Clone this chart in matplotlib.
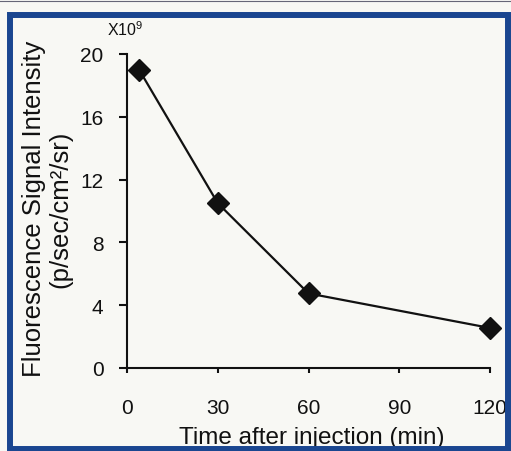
import matplotlib
matplotlib.use("Agg")
import matplotlib.pyplot as plt
from matplotlib.patches import Rectangle
from matplotlib.lines import Line2D

# data
time_min = [4, 30, 60, 120]
signal_e9 = [19.0, 10.5, 4.75, 2.55]
xticks = [0, 30, 60, 90, 120]
yticks = [0, 4, 8, 12, 16, 20]

plt.rcParams['font.family'] = ['Liberation Sans', 'DejaVu Sans']
plt.rcParams['mathtext.fontset'] = 'custom'
plt.rcParams['mathtext.rm'] = 'Liberation Sans'
plt.rcParams['mathtext.default'] = 'rm'

bg = '#f8f8f4'
fig = plt.figure(figsize=(5.11, 4.52), dpi=100, facecolor=bg)
ax = fig.add_axes([127 / 511, 1 - 369 / 452, 363 / 511, 314 / 452])
ax.set_facecolor(bg)

ax.plot(time_min, signal_e9, color='#111111', lw=1.6, marker='D',
        markersize=11, markerfacecolor='#111111', markeredgecolor='#111111',
        clip_on=False, zorder=3)

ax.set_xlim(0, 120)
ax.set_ylim(0, 20)
ax.set_xticks(xticks)
ax.set_yticks(yticks)
for s in ['top', 'right']:
    ax.spines[s].set_visible(False)
for s in ['left', 'bottom']:
    ax.spines[s].set_linewidth(1.5)
    ax.spines[s].set_color('#111111')

ax.tick_params(axis='y', direction='out', length=6, width=1.5, pad=11,
               labelsize=15, colors='#111111')
ax.tick_params(axis='x', direction='out', length=3.5, width=1.5, pad=18,
               labelsize=15, colors='#111111')

ax.set_xlabel('Time after injection (min)', fontsize=17.5, color='#111111')
ax.xaxis.set_label_coords(0.51, -0.185)
ax.set_ylabel('Fluorescence Signal Intensity\n(p/sec/cm²/sr)', fontsize=18.5,
              color='#111111', linespacing=1.12)
ax.yaxis.set_label_coords(-0.15, 0.51)

ax.text(-0.005, 1.08, r'X10$^{9}$', transform=ax.transAxes, ha='center',
        va='center', fontsize=11.5, color='#111111')

# blue frame of the scanned page
fig.patches.append(Rectangle((9.5 / 511, 2 / 452), 498.5 / 511, 434.5 / 452,
                             transform=fig.transFigure, fill=False,
                             edgecolor='#1a4690', linewidth=4.3))
fig.lines.append(Line2D([0, 1], [1 - 2 / 452, 1 - 2 / 452],
                        transform=fig.transFigure, color='#666677', lw=0.8))

fig.savefig('out.png', dpi=100, facecolor=bg)
